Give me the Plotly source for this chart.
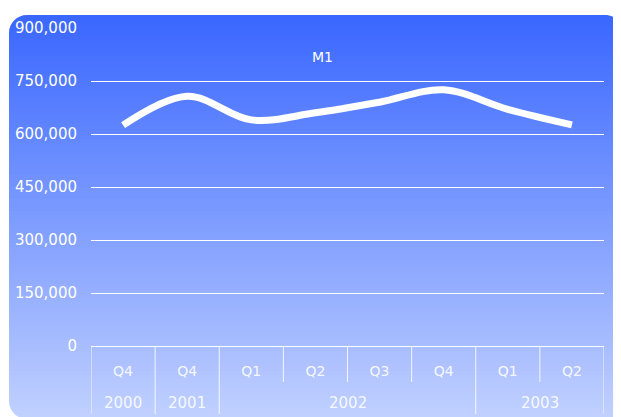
import plotly.graph_objects as go

years = ["2000", "2001", "2002", "2002", "2002", "2002", "2003", "2003"]
quarters = ["Q4", "Q4", "Q1", "Q2", "Q3", "Q4", "Q1", "Q2"]
m1_values = [625000, 707000, 640000, 660000, 690000, 725000, 670000, 626000]
y_ticks = [0, 150000, 300000, 450000, 600000, 750000, 900000]
y_tick_labels = ["0", "150,000", "300,000", "450,000", "600,000", "750,000", "900,000"]

W, H = 621, 417
FONT = "DejaVu Sans"

# screen-pixel -> paper (plot area spans screen x 91..604, y 28..346)
PX0, PX1, PY0, PY1 = 91, 604, 28, 346

def px(x):
    return (x - PX0) / (PX1 - PX0)

def py(y):
    return (PY1 - y) / (PY1 - PY0)

categories = [y + " " + q for y, q in zip(years, quarters)]
idx = list(range(len(categories)))

# card background: vertical gradient with rounded corners
cx0, cy0, cx1, cy1, rad = 9, 15, 623, 419, 18
top_rgb = (58, 103, 255)
bot_rgb = (192, 208, 255)
shapes = []
n = 101
step = (cy1 - cy0) / n
for i in range(n):
    t = i / (n - 1)
    c = tuple(round(top_rgb[k] + (bot_rgb[k] - top_rgb[k]) * t) for k in range(3))
    shapes.append(dict(type="rect", xref="paper", yref="paper", layer="below",
                       x0=px(cx0), x1=px(cx1), y0=py(cy0 + i * step), y1=py(cy0 + (i + 1) * step + 0.6),
                       fillcolor="rgb(%d,%d,%d)" % c, line=dict(width=0)))

k = 0.5523 * rad
def corner(cx, cy, sx, sy):
    p = lambda x, y: "%f,%f" % (px(x), py(y))
    return ("M " + p(cx, cy) + " L " + p(cx, cy + sy * rad) +
            " C " + p(cx, cy + sy * (rad - k)) + " " + p(cx + sx * (rad - k), cy) + " " + p(cx + sx * rad, cy) + " Z")

for (cx, cy, sx, sy) in [(cx0, cy0, 1, 1), (cx1, cy0, -1, 1), (cx0, cy1, 1, -1), (cx1, cy1, -1, -1)]:
    shapes.append(dict(type="path", xref="paper", yref="paper", layer="below",
                       path=corner(cx, cy, sx, sy), fillcolor="white", line=dict(width=0)))

# category boundaries: short ticks between quarters, long dividers between years
divider_color = "rgba(255,255,255,0.85)"
n_cat = len(categories)
for b in range(n_cat + 1):
    xb = b - 0.5
    is_group = b == 0 or b == n_cat or years[b] != years[b - 1]
    y_end = 414 if is_group else 382
    shapes.append(dict(type="line", xref="x", yref="paper", layer="above",
                       x0=xb, x1=xb, y0=0, y1=py(y_end),
                       line=dict(color=divider_color, width=1)))

# year labels centred under their groups
annotations = [dict(text="M1", x=px(322), y=py(47), xref="paper", yref="paper",
                    showarrow=False, font=dict(family=FONT, size=14, color="white"))]
groups = []
for i, yv in enumerate(years):
    if groups and groups[-1][0] == yv:
        groups[-1][2] = i
    else:
        groups.append([yv, i, i])
for yv, a, b in groups:
    annotations.append(dict(text=yv, x=(a + b) / 2, y=py(403), xref="x", yref="paper",
                            xanchor="center", yanchor="middle", showarrow=False,
                            font=dict(family=FONT, size=15, color="rgba(255,255,255,0.9)")))

fig = go.Figure()
fig.add_trace(go.Scatter(
    x=categories, y=m1_values, mode="lines",
    line=dict(color="white", width=7, shape="spline", smoothing=1.0),
    showlegend=False, hoverinfo="skip",
))

fig.update_layout(
    width=W, height=H,
    margin=dict(l=83, r=25, t=20, b=79),
    paper_bgcolor="white",
    plot_bgcolor="rgba(0,0,0,0)",
    font=dict(family=FONT, size=15, color="white"),
    shapes=shapes,
    annotations=annotations,
    xaxis=dict(
        type="category", range=[-0.5, n_cat - 0.5], autorange=False, automargin=False,
        tickvals=categories, ticktext=quarters,
        showgrid=False, showline=True, linecolor="white", linewidth=1,
        ticks="", ticklabelstandoff=12,
        tickfont=dict(family=FONT, size=14, color="rgba(255,255,255,0.9)"),
        zeroline=False,
    ),
    yaxis=dict(
        range=[0, 900000], tickvals=y_ticks, ticktext=y_tick_labels, automargin=False,
        showgrid=True, gridcolor="white", gridwidth=1, zeroline=False,
        showline=False, ticks="", ticklabelstandoff=13,
        tickfont=dict(family=FONT, size=15, color="white"),
    ),
)

fig.write_html("out.html")
